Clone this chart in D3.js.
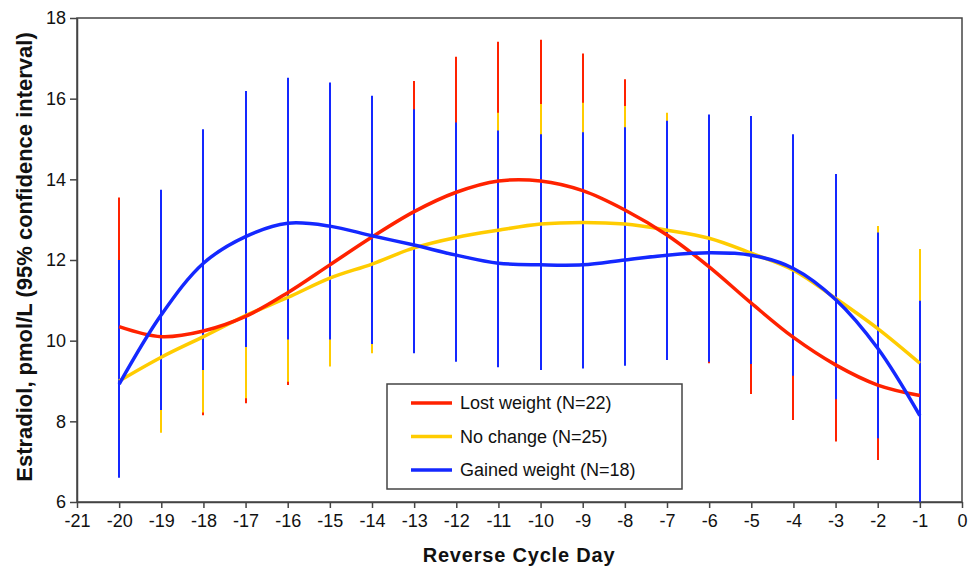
<!DOCTYPE html>
<html>
<head>
<meta charset="utf-8">
<script src="https://cdn.jsdelivr.net/npm/d3@7"></script>
<style>
  body { margin: 0; background: #fff; }
  svg { display: block; font-family: "Liberation Sans", Arial, sans-serif; }
</style>
</head>
<body>
<div id="chart"></div>
<script>
// reverse cycle days
const days = [-20, -19, -18, -17, -16, -15, -14, -13, -12, -11, -10, -9, -8, -7, -6, -5, -4, -3, -2, -1];
const xTickLabels = [-21, -20, -19, -18, -17, -16, -15, -14, -13, -12, -11, -10, -9, -8, -7, -6, -5, -4, -3, -2, -1, 0];
const yTickLabels = [6, 8, 10, 12, 14, 16, 18];

// lost weight (N=22)
const lostMean = [10.35, 10.1, 10.24, 10.6, 11.19, 11.88, 12.57, 13.2, 13.68, 13.96, 13.96, 13.72, 13.24, 12.62, 11.83, 10.93, 10.08, 9.4, 8.9, 8.64];
const lostHi   = [13.55, 12.6, 12.9, 13.6, 14.4, 15.0, 15.8, 16.44, 17.04, 17.41, 17.46, 17.12, 16.48, 15.2, 14.6, 13.6, 12.5, 11.6, 10.8, 10.6];
const lostLo   = [7.2, 7.8, 8.15, 8.45, 8.9, 9.5, 9.8, 10.0, 10.3, 10.5, 10.5, 10.3, 10.0, 9.8, 9.44, 8.68, 8.03, 7.5, 7.04, 6.7];

// no change (N=25)
const sameMean = [9.0, 9.59, 10.1, 10.62, 11.07, 11.55, 11.9, 12.3, 12.56, 12.74, 12.89, 12.93, 12.89, 12.74, 12.54, 12.17, 11.75, 11.05, 10.3, 9.44];
const sameHi   = [11.2, 11.8, 12.3, 12.9, 13.4, 13.9, 14.3, 14.8, 15.2, 15.65, 15.87, 15.9, 15.82, 15.65, 15.4, 14.9, 14.2, 13.2, 12.84, 12.27];
const sameLo   = [6.9, 7.72, 8.22, 8.57, 8.98, 9.36, 9.69, 9.9, 10.0, 10.1, 10.1, 10.0, 9.95, 9.9, 9.6, 9.5, 9.3, 8.9, 7.9, 6.6];

// gained weight (N=18)
const gainMean = [8.92, 10.64, 11.92, 12.58, 12.91, 12.84, 12.6, 12.37, 12.12, 11.92, 11.88, 11.88, 12.0, 12.12, 12.18, 12.12, 11.79, 11.02, 9.81, 8.14];
const gainHi   = [12.0, 13.74, 15.24, 16.19, 16.52, 16.4, 16.07, 15.74, 15.41, 15.21, 15.12, 15.17, 15.29, 15.45, 15.61, 15.57, 15.12, 14.13, 12.68, 10.99];
const gainLo   = [6.6, 8.28, 9.27, 9.84, 10.03, 10.03, 9.92, 9.69, 9.48, 9.34, 9.27, 9.31, 9.38, 9.52, 9.48, 9.42, 9.13, 8.55, 7.58, 6.0];

const groups = [
  { name: "Lost weight (N=22)", color: "#ff2200", mean: lostMean, hi: lostHi, lo: lostLo },
  { name: "No change (N=25)", color: "#ffcc00", mean: sameMean, hi: sameHi, lo: sameLo },
  { name: "Gained weight (N=18)", color: "#1428ff", mean: gainMean, hi: gainHi, lo: gainLo }
];

const width = 968, height = 567;
const m = { left: 77, right: 6, top: 18, bottom: 65 };

const svg = d3.select("#chart").append("svg")
    .attr("width", width)
    .attr("height", height);

const x = d3.scaleLinear().domain([-21, 0]).range([m.left, width - m.right]);
const y = d3.scaleLinear().domain([6, 18]).range([height - m.bottom, m.top]);

// frame (top + right edges)
svg.append("rect")
    .attr("x", x(-21)).attr("y", y(18))
    .attr("width", x(0) - x(-21)).attr("height", y(6) - y(18))
    .attr("fill", "none").attr("stroke", "#444").attr("stroke-width", 1.5);

// error bars: red first, then yellow, blue on top
// snap to whole pixels so stacked bars don't blend
groups.forEach(g => {
  svg.append("g").selectAll("line")
    .data(days)
    .join("line")
    .attr("x1", d => Math.round(x(d))).attr("x2", d => Math.round(x(d)))
    .attr("y1", (d, i) => y(g.lo[i]))
    .attr("y2", (d, i) => y(g.hi[i]))
    .attr("stroke", g.color)
    .attr("stroke-width", 2);
});

// mean curves
const line = d3.line()
    .x((d, i) => x(days[i]))
    .y(d => y(d))
    .curve(d3.curveCatmullRom.alpha(0.5));

[groups[1], groups[0], groups[2]].forEach(g => {
  svg.append("path")
    .attr("d", line(g.mean))
    .attr("fill", "none")
    .attr("stroke", g.color)
    .attr("stroke-width", 3.5)
    .attr("stroke-linejoin", "round");
});

// axes
const xAxis = svg.append("g")
    .attr("transform", `translate(0,${y(6)})`)
    .call(d3.axisBottom(x).tickValues(xTickLabels).tickFormat(d => String(d))
      .tickSize(6).tickSizeOuter(0).tickPadding(6));
const yAxis = svg.append("g")
    .attr("transform", `translate(${x(-21)},0)`)
    .call(d3.axisLeft(y).tickValues(yTickLabels).tickFormat(d => String(d))
      .tickSize(7).tickSizeOuter(0).tickPadding(4));

[xAxis, yAxis].forEach(a => {
  a.select(".domain").attr("stroke", "#444").attr("stroke-width", 1.5);
  a.selectAll(".tick line").attr("stroke", "#444").attr("stroke-width", 1.5);
  a.selectAll(".tick text")
    .attr("fill", "#111")
    .style("font-size", "18px")
    .style("font-family", "Liberation Sans, Arial, sans-serif");
});

// axis titles
svg.append("text")
    .attr("x", 519).attr("y", 562)
    .attr("text-anchor", "middle")
    .style("font-size", "20px").style("font-weight", "bold")
    .style("letter-spacing", "0.8px")
    .attr("fill", "#111")
    .text("Reverse Cycle Day");

svg.append("text")
    .attr("transform", `translate(32,257) rotate(-90)`)
    .attr("text-anchor", "middle")
    .style("font-size", "22px").style("font-weight", "bold")
    .attr("fill", "#111")
    .text("Estradiol, pmol/L (95% confidence interval)");

// legend
const lg = svg.append("g").attr("transform", "translate(387,384)");
lg.append("rect")
    .attr("width", 295).attr("height", 105)
    .attr("fill", "#fff").attr("stroke", "#444").attr("stroke-width", 1.5);
const rows = lg.selectAll("g.row")
    .data(groups)
    .join("g")
    .attr("class", "row")
    .attr("transform", (d, i) => `translate(0,${19 + i * 33.5})`);
rows.append("line")
    .attr("x1", 24).attr("x2", 65)
    .attr("stroke", d => d.color).attr("stroke-width", 3.5);
rows.append("text")
    .attr("x", 73).attr("y", 6)
    .style("font-size", "18px")
    .attr("fill", "#111")
    .text(d => d.name);
</script>
</body>
</html>
